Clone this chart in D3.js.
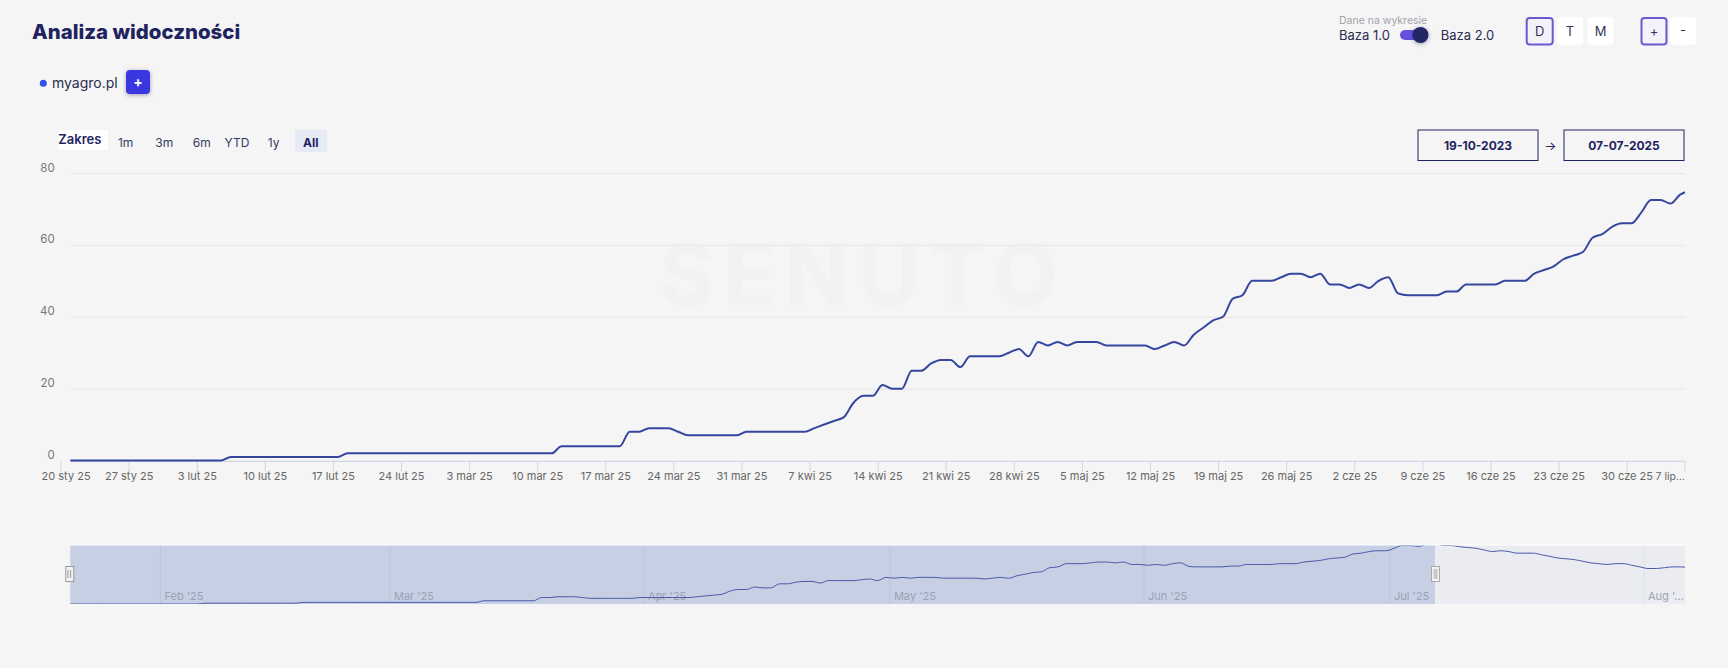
<!DOCTYPE html>
<html lang="pl">
<head>
<meta charset="utf-8">
<title>Analiza widoczności</title>
<script src="https://cdn.jsdelivr.net/npm/d3@7"></script>
<style>
  html, body { margin: 0; background: #f5f5f5; overflow: hidden; }
  text { font-family: Inter, "Open Sans", sans-serif; }
</style>
</head>
<body>
<svg id="chart" width="1728" height="668"></svg>
<script>
// daily visibility, first point is 20 Jan 2025
var visibility = [
  0,
  0,0,0,0,0,0,0,0,0,0,0,0,0,0,0,0,
  1,1,1,1,1,1,1,1,1,1,1,1,
  2,2,2,2,2,2,2,2,2,2,2,2,2,2,2,2,2,2,2,2,2,2,
  4,4,4,4,4,4,4,
  8,8,9,9,9,8,
  7,7,7,7,7,7,
  8,8,8,8,8,8,8,
  9,10,11,12,16,18,18,21,20,20,25,25,27,28,28,26,
  29,29,29,29,30,31,29,33,32,33,32,33,33,33,
  32,32,32,32,32,31,32,33,32,35,37,39,40,45,46,
  50,50,50,51,52,52,51,52,49,49,48,49,48,50,51,46.5,
  46,46,46,46,47,47,49,49,49,49,50,50,50,52,53,54,56,57,58,
  62,63,65,66,66,69,72.5,72.5,71.5,74,75
];
// the navigator keeps going after the selected range ends
var navigatorTail = [
  72.5,72.5,71,70,69,67,65,66,65,63,63,63,61,59,57,56,
  55,53,51,50,49,50,50,48,46,44,44,45,46,46,45
];
var weekTicks = ["2025-01-20","2025-01-27","2025-02-03","2025-02-10","2025-02-17","2025-02-24",
  "2025-03-03","2025-03-10","2025-03-17","2025-03-24","2025-03-31","2025-04-07","2025-04-14",
  "2025-04-21","2025-04-28","2025-05-05","2025-05-12","2025-05-19","2025-05-26","2025-06-02",
  "2025-06-09","2025-06-16","2025-06-23","2025-06-30","2025-07-07"];
var weekLabels = ["20 sty 25","27 sty 25","3 lut 25","10 lut 25","17 lut 25","24 lut 25",
  "3 mar 25","10 mar 25","17 mar 25","24 mar 25","31 mar 25","7 kwi 25","14 kwi 25",
  "21 kwi 25","28 kwi 25","5 maj 25","12 maj 25","19 maj 25","26 maj 25","2 cze 25",
  "9 cze 25","16 cze 25","23 cze 25","30 cze 25","7 lip..."];
var yTicks = [0, 20, 40, 60, 80];
var monthTicks = ["2025-02-01","2025-03-01","2025-04-01","2025-05-01","2025-06-01","2025-07-01","2025-08-01"];
var monthLabels = ["Feb '25","Mar '25","Apr '25","May '25","Jun '25","Jul '25","Aug '..."];
var rangeButtons = ["1m","3m","6m","YTD","1y","All"];
var granularity = ["D","T","M"];

var navy = "#1f2360", lineColor = "#36469e";
var day = d3.utcParse("%Y-%m-%d");
var svg = d3.select("#chart");

var left = 70.3, right = 1685;
var pointDate = function (d, i) { return d3.utcHour.offset(day("2025-01-20"), 12 + i * 24); };

var x = d3.scaleUtc().domain([day("2025-01-21"), day("2025-07-06")]).range([left, right]);
var y = d3.scaleLinear().domain([0, 80]).range([460.5, 173]);

// header
function label(txt, px, py, size, color, weight, anchor) {
  return svg.append("text").attr("x", px).attr("y", py).text(txt)
    .attr("font-size", size).attr("fill", color)
    .attr("font-weight", weight || 400).attr("text-anchor", anchor || "start");
}
function box(x0, y0, w, h, fill, stroke, rx) {
  return svg.append("rect").attr("x", x0).attr("y", y0).attr("width", w).attr("height", h)
    .attr("fill", fill).attr("stroke", stroke || "none").attr("rx", rx || 0);
}

label("Analiza widoczności", 32, 38.5, 20.4, navy, 800);

svg.append("circle").attr("cx", 43.3).attr("cy", 83.3).attr("r", 3.5).attr("fill", "#3350e8");
label("myagro.pl", 52, 87.5, 14, "#2a2c50");
box(126, 70, 24, 24, "#3b37e0", null, 4).style("filter", "drop-shadow(0 1px 2px rgba(30,30,90,.4))");
label("+", 138, 87, 14, "#fff", 700, "middle");

box(58, 130, 50, 20, "#fff");
label("Zakres", 58.3, 144, 13, navy, 600);
box(295, 130, 32, 22, "#e6eaf6");
var rangeX = [125.7, 164.3, 201.7, 237, 273.7, 310.7];
rangeButtons.forEach(function (b, i) {
  label(b, rangeX[i], 146.5, 12, b === "All" ? navy : "#333a66", b === "All" ? 700 : 400, "middle");
});

label("Dane na wykresie", 1339, 23.5, 10.5, "#a3a3ab");
label("Baza 1.0", 1339, 39.5, 13, "#2a2c50");
box(1400, 30, 28, 10, "#6450e0", null, 5);
svg.append("circle").attr("cx", 1420.5).attr("cy", 35).attr("r", 8).attr("fill", "#232766")
  .style("filter", "drop-shadow(0 1px 2px rgba(30,30,90,.4))");
label("Baza 2.0", 1440.8, 39.5, 13, "#2a2c50");

var granX = [1526.7, 1557, 1587.5];
granularity.forEach(function (g, i) {
  if (i === 0) box(granX[i], 18, 26, 26.5, "#f3f2fb", "#6a5acd", 3).attr("stroke-width", 2);
  else box(granX[i], 17.3, 26, 27.5, "#fff", null, 3);
  label(g, granX[i] + 13, 35.5, 13, "#33345a", 400, "middle");
});
box(1641.5, 18, 25, 26.5, "#f3f2fb", "#6a5acd", 3).attr("stroke-width", 2);
label("+", 1654, 35.5, 13, "#33345a", 400, "middle");
box(1670, 17.3, 26, 27.5, "#fff", null, 3);
label("-", 1683, 35, 13, "#33345a", 400, "middle");

box(1418, 130, 120, 30.5, "none", navy).attr("stroke-width", 1);
label("19-10-2023", 1478, 150, 12, navy, 700, "middle");
label("→", 1550.5, 150, 12.5, navy, 400, "middle");
box(1564, 130, 120, 30.5, "none", navy).attr("stroke-width", 1);
label("07-07-2025", 1624, 150, 12, navy, 700, "middle");

// watermark
label("SENUTO", 863, 305, 85, "#f2f2f2", 700, "middle").attr("letter-spacing", 9);

// main plot
var yAxis = svg.append("g").attr("transform", "translate(" + left + ",0)")
  .call(d3.axisLeft(y).tickValues(yTicks).tickSize(-(right - left)));
yAxis.select(".domain").remove();
yAxis.selectAll("line").attr("stroke", "#e6e6e6");
yAxis.selectAll("text").attr("x", 54.7 - left).attr("dy", "-2px")
  .attr("font-size", 11.5).attr("font-family", "Inter").attr("fill", "#777");

var xAxis = svg.append("g").attr("transform", "translate(0,461.5)")
  .call(d3.axisBottom(x).tickValues(weekTicks.map(day))
    .tickFormat(function (d, i) { return weekLabels[i]; }).tickSize(10).tickPadding(1));
xAxis.select(".domain").remove();
xAxis.append("line").attr("x1", left).attr("x2", right).attr("stroke", "#ccd6eb");
xAxis.selectAll(".tick line").attr("stroke", "#ccd6eb");
xAxis.selectAll(".tick text").attr("font-size", 11).attr("font-family", "Inter").attr("fill", "#666");
// first and last labels are pushed back inside the plot
xAxis.selectAll(".tick").filter(function (d, i) { return i === 0; }).select("text").attr("dx", 5);
var lastTick = xAxis.selectAll(".tick").filter(function (d, i) { return i === weekTicks.length - 1; });
lastTick.attr("transform", "translate(" + right + ",0)");
lastTick.select("text").attr("text-anchor", "end").attr("dx", 0).attr("font-size", 10.5);

svg.append("clipPath").attr("id", "plotClip").append("rect")
  .attr("x", left).attr("y", 150).attr("width", right - left).attr("height", 320);

var line = d3.line().x(function (d, i) { return x(pointDate(d, i)); }).y(function (d) { return y(d); })
  .curve(d3.curveMonotoneX);
svg.append("path").datum(visibility).attr("d", line).attr("fill", "none")
  .attr("stroke", lineColor).attr("stroke-width", 2).attr("clip-path", "url(#plotClip)");

// navigator
var navTop = 545, navBottom = 604;
var navX = d3.scaleUtc().domain([day("2025-01-21"), day("2025-08-06")]).range([left, right]);
var navY = d3.scaleLinear().domain([0, 72.5]).range([navBottom, navTop + 0.5]);
var navEnd = navX(pointDate(0, visibility.length - 1));

box(left, navTop, navEnd - left, navBottom - navTop, "#c6cfe4");
box(navEnd, navTop, right - navEnd, navBottom - navTop, "#ebecf2");

monthTicks.forEach(function (m, i) {
  var mx = navX(day(m));
  svg.append("line").attr("x1", mx).attr("x2", mx).attr("y1", navTop).attr("y2", navBottom)
    .attr("stroke", mx < navEnd ? "#bcc5da" : "#e0e2e9");
  label(monthLabels[i], mx + 4, 600, 11, "#9aa3b5");
});

svg.append("clipPath").attr("id", "navClip").append("rect")
  .attr("x", left).attr("y", navTop).attr("width", right - left).attr("height", navBottom - navTop);
var navLine = d3.line().x(function (d, i) { return navX(pointDate(d, i)); }).y(function (d) { return navY(d); })
  .curve(d3.curveMonotoneX);
svg.append("path").datum(visibility.concat(navigatorTail)).attr("d", navLine).attr("fill", "none")
  .attr("stroke", "#4a5aa8").attr("stroke-width", 1).attr("clip-path", "url(#navClip)");

svg.append("line").attr("x1", left).attr("x2", right).attr("y1", navTop).attr("y2", navTop)
  .attr("stroke", "#fff");
svg.append("line").attr("x1", navEnd).attr("x2", right).attr("y1", navBottom).attr("y2", navBottom)
  .attr("stroke", "#f5f5f5");

// handles
box(left - 4.5, 566.5, 8, 15, "#f2f2f2", "#999");
[-1.8, 0.8].forEach(function (dx) {
  svg.append("line").attr("x1", left - 0.5 + dx).attr("x2", left - 0.5 + dx)
    .attr("y1", 570).attr("y2", 578).attr("stroke", "#999");
});
box(navEnd - 3.5, 566.5, 8, 15, "#f2f2f2", "#aaa");
box(navEnd - 1.5, 569, 4, 10, "#c8c8c8");
</script>
</body>
</html>
